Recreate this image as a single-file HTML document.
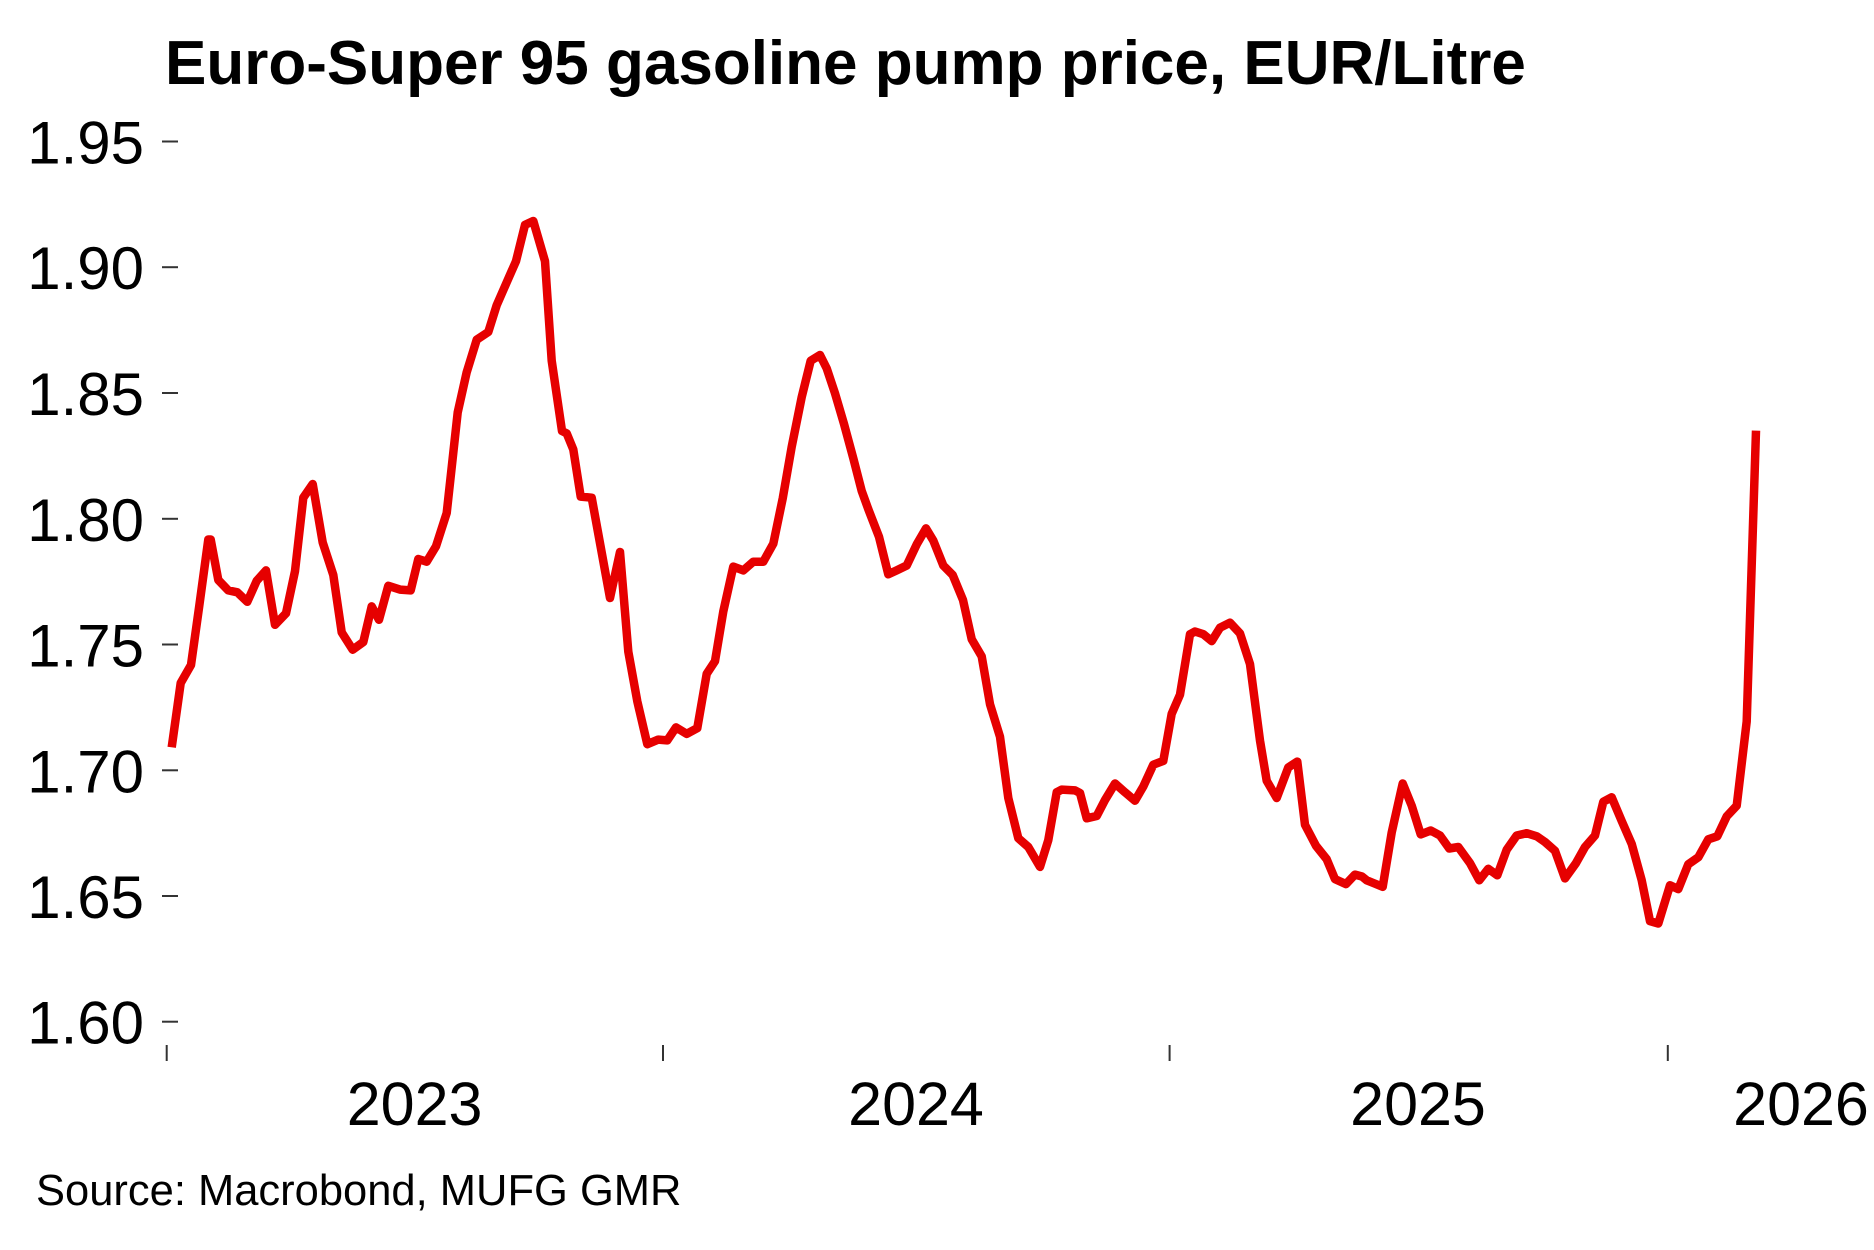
<!DOCTYPE html>
<html>
<head>
<meta charset="utf-8">
<style>
html,body{margin:0;padding:0;background:#fff;}
svg{display:block;}
text{font-family:"Liberation Sans",Arial,sans-serif;fill:#000;}
</style>
</head>
<body>
<svg width="1874" height="1250" viewBox="0 0 1874 1250" xmlns="http://www.w3.org/2000/svg">
<rect x="0" y="0" width="1874" height="1250" fill="#fff"/>
<text x="165" y="84" font-size="62" font-weight="bold">Euro-Super 95 gasoline pump price, EUR/Litre</text>

<g font-size="60" text-anchor="end">
<text x="144" y="163.5">1.95</text>
<text x="144" y="289.2">1.90</text>
<text x="144" y="415">1.85</text>
<text x="144" y="540.8">1.80</text>
<text x="144" y="666.5">1.75</text>
<text x="144" y="792.3">1.70</text>
<text x="144" y="918">1.65</text>
<text x="144" y="1043.7">1.60</text>
</g>
<g stroke="#333" stroke-width="2">
<line x1="162" y1="141.5" x2="178" y2="141.5"/>
<line x1="162" y1="267.2" x2="178" y2="267.2"/>
<line x1="162" y1="393" x2="178" y2="393"/>
<line x1="162" y1="518.8" x2="178" y2="518.8"/>
<line x1="162" y1="644.5" x2="178" y2="644.5"/>
<line x1="162" y1="770.3" x2="178" y2="770.3"/>
<line x1="162" y1="896" x2="178" y2="896"/>
<line x1="162" y1="1021.7" x2="178" y2="1021.7"/>
<line x1="166.7" y1="1045" x2="166.7" y2="1061"/>
<line x1="663" y1="1045" x2="663" y2="1061"/>
<line x1="1169.6" y1="1045" x2="1169.6" y2="1061"/>
<line x1="1667.8" y1="1045" x2="1667.8" y2="1061"/>
</g>
<g font-size="61" text-anchor="middle">
<text x="414.6" y="1125">2023</text>
<text x="916" y="1125">2024</text>
<text x="1418" y="1125">2025</text>
<text x="1801" y="1125">2026</text>
</g>
<text x="36" y="1205" font-size="43.5">Source: Macrobond, MUFG GMR</text>

<polyline fill="none" stroke="#e60000" stroke-width="8.5" stroke-linejoin="round" stroke-linecap="butt" points="
171.7,747.3 180.7,683 191,665 199.3,605.7 208.3,539.5 210.7,539.5 218.3,580 228.3,590.4 237.3,592.3 247.3,601.8
256.7,580.8 266,570.4 275,624.8 286,613.3 295,571.2 303.3,497.7 312.7,484 322.7,542.5 333.3,575 341.7,632.4
352.7,649.7 363.3,642 371.7,606.4 379,619.8 388.3,585.8 400,589.6 410.7,590.4 418.3,559 426.7,561.7 436,546.3
446.7,513 457.7,412.4 466.7,372.2 476.7,339.7 488.3,332 496.7,305.2 506.7,282.3 516,261.2 525,224.9 533.3,221
545,261.2 551.7,360.7 562,431 566.7,433.4 573.3,449.5 580.7,496.6 591.7,497.7 610,598 620,552 628.3,651.6
637.3,701.3 647.3,744.2 658.3,739.6 667.3,740.4 676,727.4 686.7,733.9 697.3,728.1 706.7,673.8 715,661.2 723.3,611.4
733.3,566.6 743.3,570.4 753.3,561.7 763.3,561.7 773.3,543.7 782.7,498.5 791.7,446.8 801.7,397.1 810.7,360.7 820,355
826.7,368.4 835,393.3 844,423.9 853.3,458.3 861.7,490.9 868.3,509.2 879,536.8 888.3,574.3 896.7,570.4 906.7,565.5
916.7,544.4 926,528.4 933.3,540.6 943.3,565.5 952.7,575 963,600 971.7,639.2 981.7,656.4 990,704.2 1000,736.8
1008.3,798 1018.3,838.2 1028.3,847 1040,866.9 1048.3,840.1 1056.7,792.3 1061.7,789.6 1075,790.4 1080,793 1086.7,818.3
1096.7,816 1105,800 1115,783.5 1125,792.3 1135,800.7 1143.3,786.5 1153.3,764.7 1163.3,760.9 1171.7,713.8 1180,694.7
1190,634.2 1195,631.5 1203.3,634.2 1211.7,641.1 1220,627.7 1230,622.7 1240,633.4 1250,664.1 1260,740.6 1266.7,780.8
1276.7,798 1288.3,767.4 1297.3,761.6 1305,824.8 1316,845.8 1326.7,859.2 1335,879.1 1346,884.1 1355,874.6 1362,876.5
1366.7,880.3 1373.3,883 1382.7,886.8 1391.7,832.5 1402.7,783.5 1411.7,805.7 1420.7,834.4 1430.7,830.5 1440,835.5 1449.3,848.5
1458.3,847 1470,863.1 1479.3,880.3 1488.3,868.8 1497.3,875.3 1506.7,849.7 1516.7,835.5 1526.7,833.2 1536.7,836.3 1545,842
1555,850.8 1565,878.4 1576,863.1 1585,847 1595,835.5 1603.3,801.8 1611.7,797.3 1621.7,821 1631.7,843.9 1641.7,880.3
1650,921.2 1658.3,923.5 1670,885.3 1678.3,889.1 1688.3,864.2 1698.3,857.3 1708.3,839.3 1717.3,836.3 1726.7,816.4 1736.7,805.7
1746.7,721.5 1756,430.6"/>
</svg>
</body>
</html>
